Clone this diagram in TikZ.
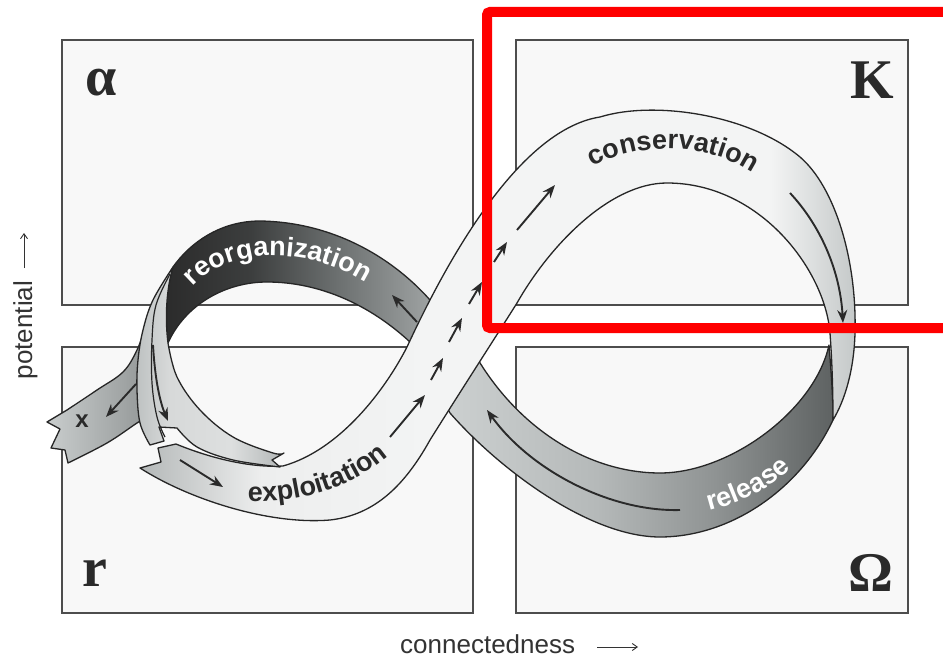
\documentclass[tikz,border=0pt]{standalone}
\usepackage{fontspec}
\newfontfamily\lsans{Liberation Sans}
\newfontfamily\lserif{Liberation Serif}
\usetikzlibrary{arrows.meta,decorations.text}

\definecolor{edge}{HTML}{262626}
\definecolor{arrowc}{HTML}{2A2A2A}
\definecolor{framec}{HTML}{4D4D4D}
\definecolor{boxfill}{HTML}{F8F8F8}
\definecolor{labelc}{HTML}{2A2A2A}
\definecolor{axisc}{HTML}{333333}
\definecolor{hired}{HTML}{FF0000}
\definecolor{e0}{HTML}{B4B8B8}\definecolor{e1}{HTML}{EDEEEE}\definecolor{e2}{HTML}{F3F4F4}\definecolor{e3}{HTML}{C4C8C8}
\definecolor{r0}{HTML}{CDD1D1}\definecolor{r1}{HTML}{B5B9B9}\definecolor{r2}{HTML}{8F9393}\definecolor{r3}{HTML}{5E6262}
\definecolor{g0}{HTML}{2B2B2B}\definecolor{g1}{HTML}{3C3E3E}\definecolor{g2}{HTML}{6B6F6F}\definecolor{g3}{HTML}{A9ADAD}
\definecolor{x0}{HTML}{C9CDCD}\definecolor{x1}{HTML}{8E9292}
\definecolor{l0}{HTML}{BEC2C2}\definecolor{l1}{HTML}{D7D9D9}\definecolor{l2}{HTML}{DDDFDF}\definecolor{l3}{HTML}{B2B6B6}

\pgfdeclarehorizontalshading{eshade}{100bp}{color(0bp)=(e0); color(25bp)=(e0); color(33.5bp)=(e1); color(45bp)=(e2); color(69bp)=(e2); color(75bp)=(e3); color(100bp)=(e3)}
\pgfdeclarehorizontalshading{rshade}{100bp}{color(0bp)=(r0); color(25bp)=(r0); color(45bp)=(r1); color(60bp)=(r2); color(75bp)=(r3); color(100bp)=(r3)}
\pgfdeclarehorizontalshading{gshade}{100bp}{color(0bp)=(g0); color(25bp)=(g0); color(40bp)=(g1); color(55bp)=(g2); color(75bp)=(g3); color(100bp)=(g3)}
\pgfdeclarehorizontalshading{xshade}{100bp}{color(0bp)=(x0); color(25bp)=(x0); color(75bp)=(x1); color(100bp)=(x1)}
\pgfdeclarehorizontalshading{lshade}{100bp}{color(0bp)=(l0); color(25bp)=(l0); color(36bp)=(l1); color(57bp)=(l2); color(75bp)=(l3); color(100bp)=(l3)}

\begin{document}
\begin{tikzpicture}[x=1pt,y=-1pt,
  band/.style={draw=edge, line width=1.3pt, line join=round, shade},
  foldline/.style={draw=edge, line width=1.2pt},
  flowarrow/.style={draw=arrowc, line width=1.9pt, -{Stealth[length=13pt,width=10pt]}},
  frame/.style={draw=framec, fill=boxfill, line width=2pt, inner sep=0, anchor=north west},
  greek/.style={font=\lserif\bfseries\fontsize{56}{56}\selectfont, text=labelc, inner sep=0},
  axislabel/.style={font=\lsans\fontsize{26}{26}\selectfont, text=axisc, inner sep=0},
  axarrow/.style={draw=axisc, line width=0.9pt, -{Straight Barb[length=5pt,width=7pt]}},
  curvetext/.style={decorate, decoration={text along path, text align=center, text={#1}}},
]
\useasboundingbox (0,0) rectangle (943,658);
\fill[white] (0,0) rectangle (943,658);

% quadrant boxes
\node[frame, minimum width=411pt, minimum height=265pt] (qa) at (61,39) {};
\node[frame, minimum width=392pt, minimum height=265pt] (qk) at (515,39) {};
\node[frame, minimum width=411pt, minimum height=266pt] (qr) at (61,346) {};
\node[frame, minimum width=392pt, minimum height=266pt] (qo) at (515,346) {};

\node[greek] (la) at (101,83) {α};
\node[greek] (lk) at (872,80) {K};
\node[greek] (lr) at (95,573) {r};
\node[greek] (lo) at (871,573) {Ω};

% release band (behind)
\path[band, shading=rshade]
  (833,420) .. controls (800,490) and (730,537) .. (660,537)
  .. controls (590,537) and (500,470) .. (450,413)
  -- (440,395) -- (460,360) -- (477,358)
  .. controls (520,430) and (590,473) .. (660,473)
  .. controls (730,473) and (815,410) .. (829,345)
  .. controls (831,370) and (833,395) .. (833,420) -- cycle;

% reorganization band (behind)
\path[band, shading=gshade]
  (450,320) -- (430,300) .. controls (390,255) and (330,222) .. (260,221)
  .. controls (220,221) and (190,243) .. (173,267)
  .. controls (166,290) and (165,320) .. (168,343)
  .. controls (185,305) and (225,282) .. (267,282)
  .. controls (320,282) and (370,305) .. (410,342)
  -- (430,360) -- cycle;

% exploitation + conservation band
\path[band, shading=eshade]
  (176,444) -- (158,448) -- (161,462) -- (140,468)
  .. controls (190,500) and (270,525) .. (330,520)
  .. controls (375,515) and (405,485) .. (430,440)
  .. controls (460,392) and (495,338) .. (517,303)
  .. controls (550,245) and (610,183) .. (667,183)
  .. controls (760,183) and (825,270) .. (830,333)
  .. controls (832,360) and (833,390) .. (833,420)
  .. controls (845,400) and (854,370) .. (855,333)
  .. controls (857,260) and (835,187) .. (800,157)
  .. controls (750,115) and (655,100) .. (600,117)
  .. controls (530,128) and (462,228) .. (407,347)
  .. controls (385,390) and (340,450) .. (283,466)
  .. controls (250,468) and (210,458) .. (176,444)
  -- cycle;

% x branch
\path[band, shading=xshade]
  plot[smooth,tension=.6] coordinates {(155,300) (146,325) (137,350) (123,372) (97,390) (67,410)}
  -- (47,422) -- (60,429) -- (51,448) -- (65,450) -- (68,463)
  -- plot[smooth,tension=.6] coordinates {(68,463) (107,443) (137,423) (150,415)}
  -- (158,330) -- cycle;

% descending / curling light band
\path[band, shading=lshade]
  plot[smooth,tension=.6] coordinates {(173,267) (153,300) (143,330) (138,360) (137,390) (140,423) (150,445)}
  -- (164,441) -- (159,427) -- (177,428)
  -- plot[smooth,tension=.6] coordinates {(177,428) (197,447) (233,460) (280,467)}
  -- (272,460) -- (284,453)
  -- plot[smooth,tension=.6] coordinates {(284,453) (273,453) (233,437) (200,410) (177,377) (168,343)}
  .. controls (165,320) and (166,290) .. (173,267)
  -- cycle;
\draw[foldline] plot[smooth,tension=.6] coordinates {(170,274) (156,305) (152,340) (152,383) (157,417) (165,437)};

% flow arrows
\coordinate (d1) at (390,437); \coordinate (d1e) at (425,395);
\coordinate (d2) at (431,380); \coordinate (d2e) at (443,358);
\coordinate (d3) at (449,342); \coordinate (d3e) at (462,318);
\coordinate (d4) at (469,304); \coordinate (d4e) at (482,282);
\coordinate (d5) at (494,262); \coordinate (d5e) at (507,242);
\coordinate (d6) at (517,230); \coordinate (d6e) at (555,185);
\draw[flowarrow] (d1) -- (d1e);
\draw[flowarrow] (d2) -- (d2e);
\draw[flowarrow] (d3) -- (d3e);
\draw[flowarrow] (d4) -- (d4e);
\draw[flowarrow] (d5) -- (d5e);
\draw[flowarrow] (d6) -- (d6e);

\coordinate (c1) at (790,193); \coordinate (c2) at (843,323);
\draw[flowarrow] (c1) .. controls (820,225) and (840,270) .. (c2);
\coordinate (rl1) at (680,510); \coordinate (rl2) at (487,410);
\draw[flowarrow] (rl1) .. controls (610,512) and (530,470) .. (rl2);
\coordinate (g1) at (417,322); \coordinate (g2) at (392,295);
\draw[flowarrow] (g1) -- (g2);
\coordinate (xb1) at (136,384); \coordinate (xb2) at (106,417);
\draw[flowarrow] (xb1) -- (xb2);
\coordinate (ds1) at (153,345); \coordinate (ds2) at (168,421);
\draw[flowarrow] (ds1) .. controls (155,380) and (160,402) .. (ds2);
\coordinate (ex1) at (180,460); \coordinate (ex2) at (223,487);
\draw[flowarrow] (ex1) -- (ex2);

% curved labels
\path[curvetext={|\lsans\bfseries\fontsize{27}{27}\selectfont\color{white}|reorganization}]
  (183,300) .. controls (215,245) and (310,240) .. (380,292);
\path[curvetext={|\lsans\bfseries\fontsize{27}{27}\selectfont\color{labelc}|exploitation}]
  (225,500) .. controls (290,508) and (360,490) .. (405,440);
\path[curvetext={|\lsans\bfseries\fontsize{27}{27}\selectfont\color{labelc}|conservation}]
  (585,172) .. controls (630,140) and (710,140) .. (760,178);
\path[curvetext={|\lsans\bfseries\fontsize{27}{27}\selectfont\color{white}|release}]
  (690,515) .. controls (730,508) and (775,490) .. (805,455);
\node[font=\lsans\bfseries\fontsize{24}{24}\selectfont, text=labelc, inner sep=0] (xl) at (82,421) {x};

% axes
\node[axislabel, rotate=90, anchor=base] (pot) at (32,330) {potential};
\coordinate (pa1) at (24,268); \coordinate (pa2) at (24,233);
\draw[axarrow] (pa1) -- (pa2);
\node[axislabel, anchor=base west] (con) at (400,653) {connectedness};
\coordinate (ca1) at (597,647); \coordinate (ca2) at (638,647);
\draw[axarrow] (ca1) -- (ca2);

% highlight
\draw[hired, line width=10pt, rounded corners=3pt] (487,12) rectangle (965,328);
\end{tikzpicture}
\end{document}
